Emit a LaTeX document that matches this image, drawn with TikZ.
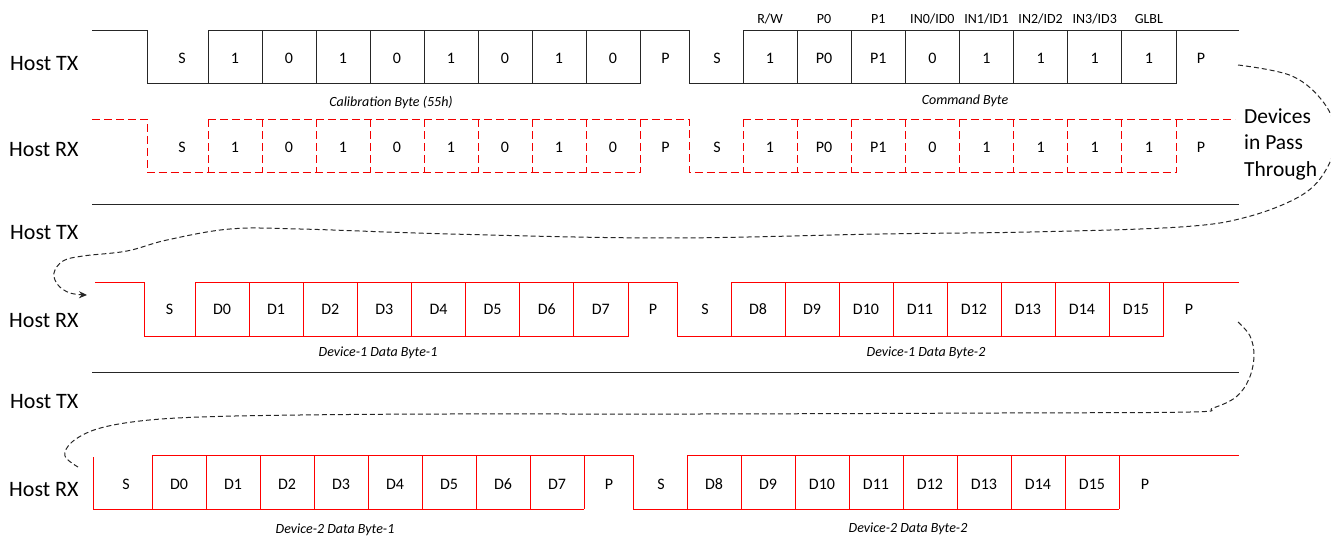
\documentclass[tikz,border=0pt]{standalone}
\usepackage{fontspec}
\setmainfont{Carlito}
\usetikzlibrary{arrows.meta}
\begin{document}
\begin{tikzpicture}[x=1pt,y=-1pt,
  txline/.style={black!85, line width=1pt},
  rxdash/.style={red!95!black, line width=1pt, dash pattern=on 8pt off 4pt},
  rxline/.style={red, line width=1pt},
  flow/.style={black!85, line width=1pt, dash pattern=on 5pt off 3pt},
  hostlbl/.style={anchor=base west, inner sep=0pt, font=\fontsize{22}{26}\selectfont},
  bitlbl/.style={anchor=base, inner sep=0pt, font=\fontsize{16}{19}\selectfont},
  toplbl/.style={anchor=base, inner sep=0pt, font=\fontsize{14}{17}\selectfont},
  caplbl/.style={anchor=base, inner sep=0pt, font=\itshape\fontsize{14}{17}\selectfont},
  devlbl/.style={anchor=base west, inner sep=0pt, font=\fontsize{21.5}{26}\selectfont},
]
\useasboundingbox (0,0) rectangle (1331,537);

% ---------- Row labels ----------
\node[hostlbl] (h1) at (10,70.7) {Host TX};
\node[hostlbl] (h2) at (9,156.7) {Host RX};
\node[hostlbl] (h3) at (10,239.3) {Host TX};
\node[hostlbl] (h4) at (9,327.3) {Host RX};
\node[hostlbl] (h5) at (10,408.3) {Host TX};
\node[hostlbl] (h6) at (9,496.7) {Host RX};

% ---------- Row 1: Host TX (calibration + command) ----------
\draw[txline] (92,30.7) -- (147,30.7) -- (147,84) -- (640,84);
\draw[txline] (208,30.7) -- (689,30.7) -- (689,84) -- (1176,84);
\draw[txline] (743,30.7) -- (1239,30.7);
\foreach \i in {0,...,8} \draw[txline] ({208+54*\i},30.7) -- ({208+54*\i},84);
\foreach \i in {0,...,8} \draw[txline] ({743+54.125*\i},30.7) -- ({743+54.125*\i},84);
\node[bitlbl] (r1s) at (182,63.3) {S};
\foreach \v [count=\i from 0] in {1,0,1,0,1,0,1,0}
  \node[bitlbl] (r1a\i) at ({235+54*\i},63.3) {\v};
\node[bitlbl] (r1p) at (665.5,63.3) {P};
\node[bitlbl] (r1s2) at (717,63.3) {S};
\foreach \v [count=\i from 0] in {1,P0,P1,0,1,1,1,1}
  \node[bitlbl] (r1b\i) at ({770+54.125*\i},63.3) {\v};
\node[bitlbl] (r1p2) at (1201,63.3) {P};
\foreach \v [count=\i from 0] in {R/W,P0,P1,IN0/ID0,IN1/ID1,IN2/ID2,IN3/ID3,GLBL}
  \node[toplbl] (t\i) at ({770+54.125*\i},23.3) {\v};
\node[caplbl] (cal) at (391,106.5) {Calibration Byte (55h)};
\node[caplbl] (cmd) at (965,104.5) {Command Byte};

% ---------- Row 2: Host RX (dashed echo) ----------
\draw[rxdash] (92,119.5) -- (147,119.5) -- (147,173) -- (640,173);
\draw[rxdash] (208,119.5) -- (689,119.5) -- (689,173) -- (1176,173);
\draw[rxdash] (743,119.5) -- (1235,119.5);
\foreach \i in {0,...,8} \draw[rxdash] ({208+54*\i},119.5) -- ({208+54*\i},173);
\foreach \i in {0,...,8} \draw[rxdash] ({743+54.125*\i},119.5) -- ({743+54.125*\i},173);
\node[bitlbl] (r2s) at (182,152.3) {S};
\foreach \v [count=\i from 0] in {1,0,1,0,1,0,1,0}
  \node[bitlbl] (r2a\i) at ({235+54*\i},152.3) {\v};
\node[bitlbl] (r2p) at (665.5,152.3) {P};
\node[bitlbl] (r2s2) at (717,152.3) {S};
\foreach \v [count=\i from 0] in {1,P0,P1,0,1,1,1,1}
  \node[bitlbl] (r2b\i) at ({770+54.125*\i},152.3) {\v};
\node[bitlbl] (r2p2) at (1201,152.3) {P};

\node[devlbl] (dv1) at (1244,123.3) {Devices};
\node[devlbl] (dv2) at (1244,150) {in Pass};
\node[devlbl] (dv3) at (1244,176.7) {Through};

% ---------- Row 3: Host TX idle ----------
\draw[txline] (92,204.5) -- (1239,204.5);

% ---------- Row 4: Host RX device 1 ----------
\draw[rxline] (95,282.7) -- (144,282.7) -- (144,336.7) -- (628,336.7);
\draw[rxline] (195,282.7) -- (677,282.7) -- (677,336.7) -- (1163,336.7);
\draw[rxline] (731,282.7) -- (1239,282.7);
\foreach \i in {0,...,8} \draw[rxline] ({195+54.125*\i},282.7) -- ({195+54.125*\i},336.7);
\foreach \i in {0,...,8} \draw[rxline] ({731+54*\i},282.7) -- ({731+54*\i},336.7);
\node[bitlbl] (r4s) at (169.5,315) {S};
\foreach \i in {0,...,7}
  \node[bitlbl] (r4a\i) at ({222+54.125*\i},315) {D\i};
\node[bitlbl] (r4p) at (653,315) {P};
\node[bitlbl] (r4s2) at (705,315) {S};
\foreach \v [count=\i from 0] in {8,...,15}
  \node[bitlbl] (r4b\i) at ({758+54*\i},315) {D\v};
\node[bitlbl] (r4p2) at (1189,315) {P};
\node[caplbl] (d1b1) at (378,356) {Device-1 Data Byte-1};
\node[caplbl] (d1b2) at (926,356) {Device-1 Data Byte-2};

% ---------- Row 5: Host TX idle ----------
\draw[txline] (92,372.3) -- (1239,372.3);

% ---------- Row 6: Host RX device 2 ----------
\draw[rxline] (93,457) -- (93,509.3) -- (584,509.3);
\draw[rxline] (152,455) -- (633,455) -- (633,509.3) -- (1119,509.3);
\draw[rxline] (687,455) -- (1239,455);
\foreach \i in {0,...,8} \draw[rxline] ({152+54*\i},455) -- ({152+54*\i},509.3);
\foreach \i in {0,...,8} \draw[rxline] ({687+54*\i},455) -- ({687+54*\i},509.3);
\node[bitlbl] (r6s) at (126,489) {S};
\foreach \i in {0,...,7}
  \node[bitlbl] (r6a\i) at ({179+54*\i},489) {D\i};
\node[bitlbl] (r6p) at (609,489) {P};
\node[bitlbl] (r6s2) at (661,489) {S};
\foreach \v [count=\i from 0] in {8,...,15}
  \node[bitlbl] (r6b\i) at ({714+54*\i},489) {D\v};
\node[bitlbl] (r6p2) at (1145,489) {P};
\node[caplbl] (d2b1) at (335,533) {Device-2 Data Byte-1};
\node[caplbl] (d2b2) at (908,532.5) {Device-2 Data Byte-2};

% ---------- Pass-through flow curves ----------
\coordinate (c1s) at (1238,65);
\coordinate (c1e) at (87,295);
\draw[flow,-{Stealth[length=8pt,width=7pt]}] plot[smooth,tension=0.6] coordinates {
  (c1s) (1292,76) (1324,103) (1336,135) (1327,168) (1302,195) (1247,217)
  (1180,227) (1030,232) (880,234) (665,238) (450,234) (300,229) (230,229)
  (167,240) (127,251) (83,256) (63,261) (54,273) (58,285) (70,293) (c1e)};

\coordinate (c2s) at (1238,322);
\coordinate (c2e) at (78,467);
\draw[flow] plot[smooth,tension=0.6] coordinates {
  (c2s) (1250,336) (1254,356) (1249,379) (1236,397) (1213,408) (1190,412)
  (1000,413) (700,414) (450,414) (300,415) (200,417) (140,421) (97,429)
  (72,442) (65,456) (c2e)};
\end{tikzpicture}
\end{document}
